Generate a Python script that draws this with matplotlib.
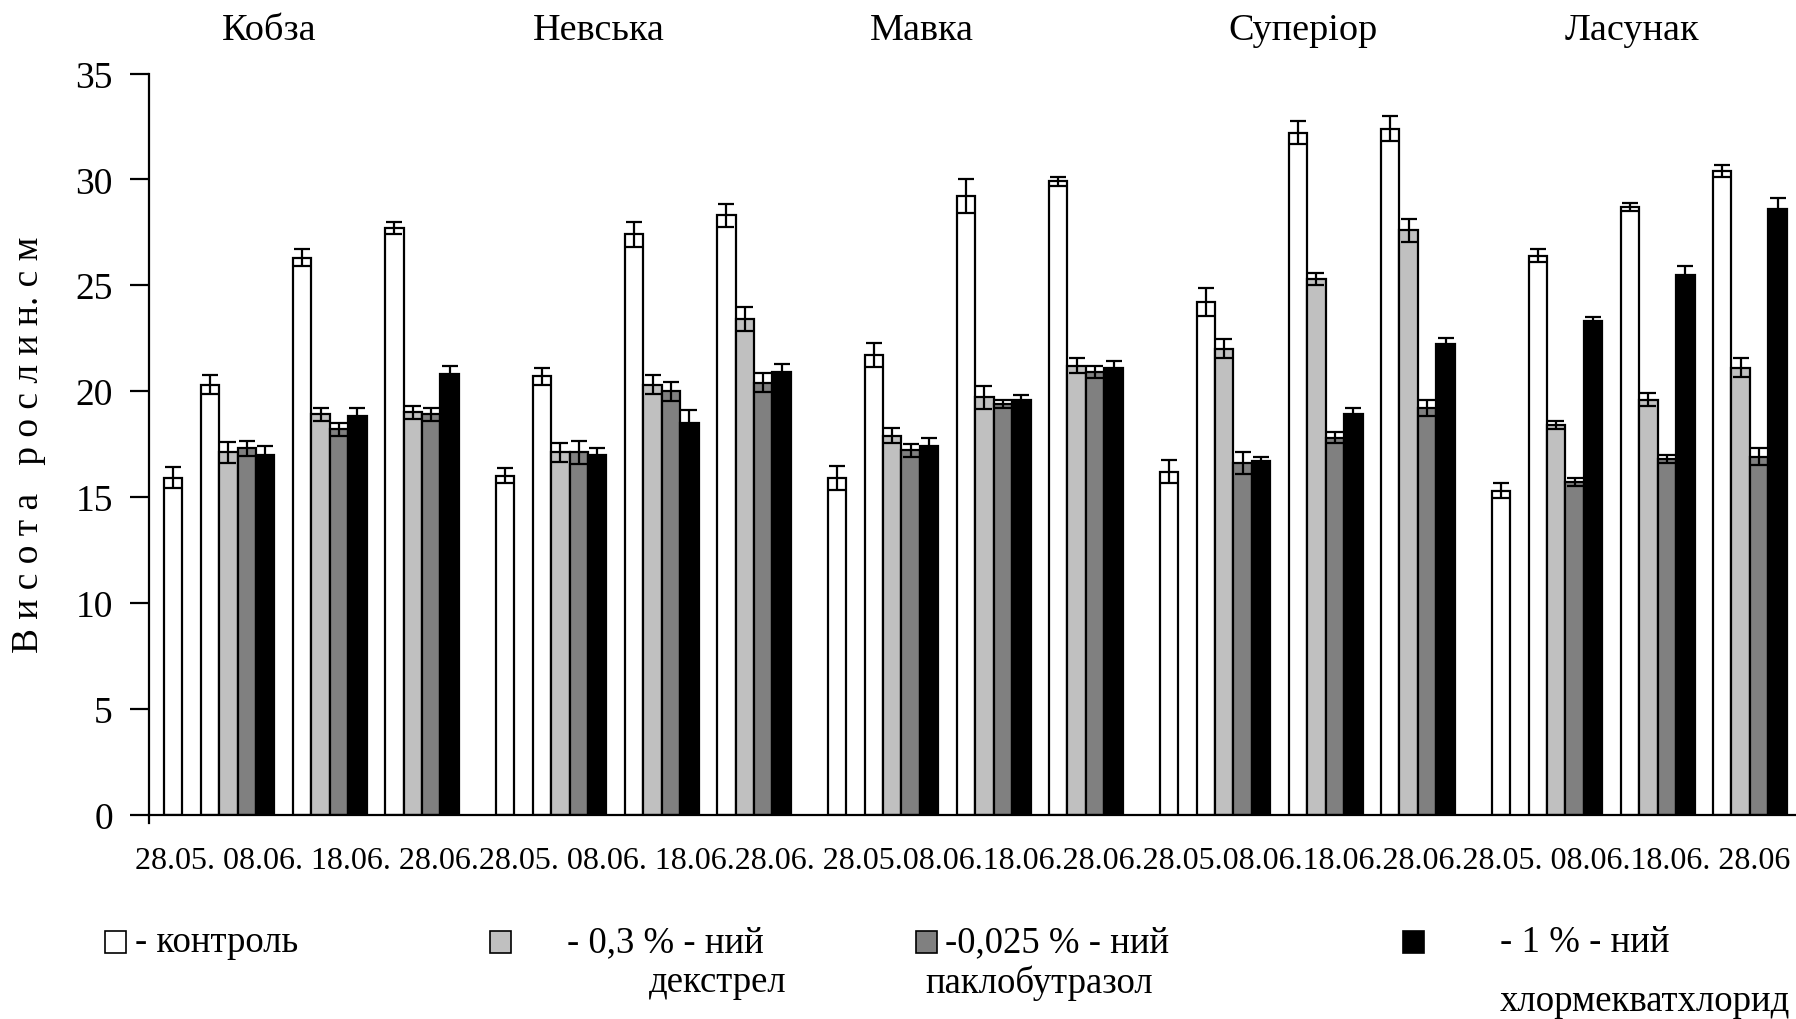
import numpy as np
import matplotlib
matplotlib.use("Agg")
import matplotlib.pyplot as plt
from matplotlib.patches import Rectangle

plt.rcParams['font.family'] = ['Liberation Serif', 'DejaVu Serif']

varieties = ["Кобза", "Невська", "Мавка", "Суперіор", "Ласунак"]
dates = ["28.05.", "08.06.", "18.06.", "28.06."]

# контроль: all four dates
control = [[15.9, 20.3, 26.3, 27.7],
           [16.0, 20.7, 27.4, 28.3],
           [15.9, 21.7, 29.2, 29.9],
           [16.2, 24.2, 32.2, 32.4],
           [15.3, 26.4, 28.7, 30.4]]
control_err = [[0.5, 0.45, 0.4, 0.3],
               [0.35, 0.4, 0.6, 0.55],
               [0.55, 0.55, 0.8, 0.2],
               [0.55, 0.65, 0.55, 0.6],
               [0.35, 0.3, 0.2, 0.3]]

# treatments: 08.06., 18.06., 28.06.
dekstrel = [[17.1, 18.9, 19.0],
            [17.1, 20.3, 23.4],
            [17.9, 19.7, 21.2],
            [22.0, 25.3, 27.6],
            [18.4, 19.6, 21.1]]
dekstrel_err = [[0.5, 0.3, 0.3],
                [0.45, 0.45, 0.55],
                [0.35, 0.55, 0.35],
                [0.45, 0.3, 0.55],
                [0.2, 0.3, 0.45]]

paclo = [[17.3, 18.2, 18.9],
         [17.1, 20.0, 20.4],
         [17.2, 19.4, 20.9],
         [16.6, 17.8, 19.2],
         [15.7, 16.8, 16.9]]
paclo_err = [[0.35, 0.3, 0.3],
             [0.55, 0.45, 0.45],
             [0.3, 0.2, 0.3],
             [0.5, 0.25, 0.4],
             [0.2, 0.2, 0.4]]

chlor = [[17.0, 18.8, 20.8],
         [17.0, 18.5, 20.9],
         [17.4, 19.6, 21.1],
         [16.7, 18.9, 22.2],
         [23.3, 25.5, 28.6]]
chlor_err = [[0.4, 0.4, 0.4],
             [0.3, 0.6, 0.4],
             [0.4, 0.2, 0.3],
             [0.2, 0.3, 0.3],
             [0.2, 0.4, 0.5]]

colors = ["white", "#c0c0c0", "#808080", "black"]
legend_lines = [("- контроль", ""),
                ("- 0,3 % - ний", "декстрел"),
                ("-0,025 % - ний", "паклобутразол"),
                ("- 1 % - ний", "хлормекватхлорид")]

W, H = 1796, 1020
fig = plt.figure(figsize=(W / 100, H / 100), dpi=100)
ax = fig.add_axes([149 / W, 1 - 815.5 / H, 1 - 149 / W, (815.5 - 74.5) / H])

lw = 1.6
err_kw = dict(ecolor="black", elinewidth=1.6, capsize=6, capthick=1.6)

pitch = 18
for i in range(len(varieties)):
    base = i * pitch
    xs = [base + 0.5] + [base + 2 + 5 * j + 0.5 for j in range(3)]
    ax.bar(xs, control[i], width=1, color=colors[0], edgecolor="black",
           linewidth=lw, yerr=control_err[i], error_kw=err_kw, zorder=2)
    series = [(dekstrel, dekstrel_err), (paclo, paclo_err), (chlor, chlor_err)]
    for k, (vals, errs) in enumerate(series):
        xk = [base + 2 + 5 * j + 1 + k + 0.5 for j in range(3)]
        ax.bar(xk, vals[i], width=1, color=colors[k + 1], edgecolor="black",
               linewidth=lw, yerr=errs[i], error_kw=err_kw, zorder=2)

ax.set_xlim(-0.8, 88.5)
ax.set_ylim(0, 35)
ax.set_yticks(np.arange(0, 36, 5))
ax.set_xticks([])
for s in ["top", "right"]:
    ax.spines[s].set_visible(False)
for s in ["left", "bottom"]:
    ax.spines[s].set_linewidth(1.6)
ax.tick_params(axis="y", length=14, width=1.6, pad=12, labelsize=27)
ax.plot([0, 0], [0, -0.012], transform=ax.transAxes, color="black",
        lw=1.6, clip_on=False)

# variety names over the groups
title_x = [269, 599, 922, 1303, 1632]
for name, x in zip(varieties, title_x):
    fig.text(x / W, 1 - 31 / H, name, ha="center", va="center", fontsize=27.5)

# date labels under the axis
date_line = ("28.05. 08.06. 18.06. 28.06.28.05. 08.06. 18.06.28.06. "
             "28.05.08.06.18.06.28.06.28.05.08.06.18.06.28.06.28.05. "
             "08.06.18.06. 28.06")
fig.text(135 / W, 1 - 862 / H, date_line, ha="left", va="center", fontsize=23)

fig.text(29 / W, 1 - 445 / H, "В и с о т а   р о с л и н. с м",
         rotation=90, ha="center", va="center", fontsize=27)

# legend
box_x = [105, 490, 916, 1403]
text_x = [135, 567, 945, 1500]
sub_x = [0, 649, 925, 1500]
for k in range(4):
    fig.patches.append(Rectangle((box_x[k] / W, 1 - 954 / H), 21 / W, 22 / H,
                                 transform=fig.transFigure, facecolor=colors[k],
                                 edgecolor="black", linewidth=1.2))
    fig.text(text_x[k] / W, 1 - 943 / H, legend_lines[k][0],
             ha="left", va="center", fontsize=26.5)
for k in (1, 2):
    fig.text(sub_x[k] / W, 1 - 983 / H, legend_lines[k][1],
             ha="left", va="center", fontsize=26.5)
fig.text(sub_x[3] / W, 1 - 1011 / H, legend_lines[3][1],
         ha="left", va="baseline", fontsize=26.5)

fig.savefig("out.png", dpi=100)
